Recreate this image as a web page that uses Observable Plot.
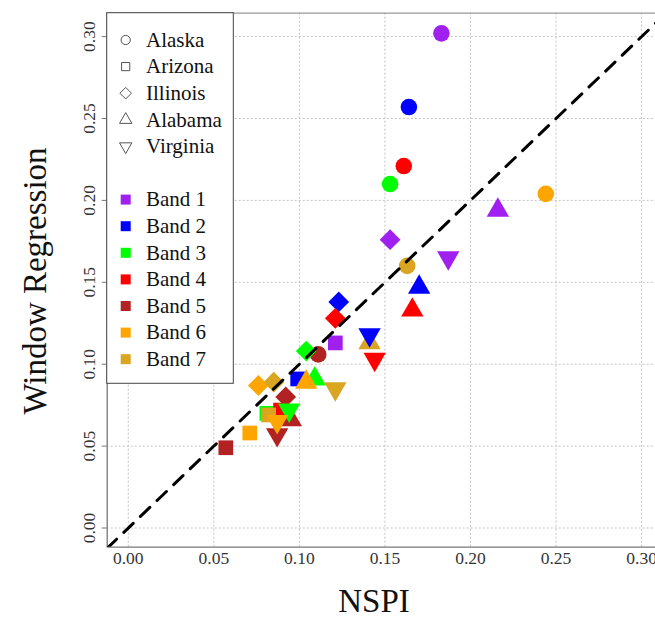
<!DOCTYPE html>
<html>
<head>
<meta charset="utf-8">
<script src="https://cdn.jsdelivr.net/npm/d3@7"></script>
<script src="https://cdn.jsdelivr.net/npm/@observablehq/plot@0.6"></script>
<style>
  html, body { margin: 0; padding: 0; background: white; }
  svg { display: block; }
</style>
</head>
<body>
<div id="chart"></div>
<script>
// ---- data ----
const sites = ["Alaska", "Arizona", "Illinois", "Alabama", "Virginia"];
const bands = ["Band 1", "Band 2", "Band 3", "Band 4", "Band 5", "Band 6", "Band 7"];
const bandColors = ["#A020F0", "#0000FF", "#00FF00", "#FF0000", "#B22222", "#FFA500", "#DAA520"];
const tickValues = [0, 0.05, 0.10, 0.15, 0.20, 0.25, 0.30];

// NSPI (x) and Window Regression (y), one value per band (Band 1..7)
const nspiAlaska   = [0.183, 0.164, 0.153, 0.161, 0.111, 0.244, 0.163];
const wrAlaska     = [0.302, 0.257, 0.210, 0.221, 0.106, 0.204, 0.160];
const nspiArizona  = [0.121, 0.099, 0.081, 0.089, 0.057, 0.071, 0.082];
const wrArizona    = [0.113, 0.091, 0.070, 0.072, 0.049, 0.058, 0.069];
const nspiIllinois = [0.153, 0.123, 0.104, 0.121, 0.092, 0.076, 0.085];
const wrIllinois   = [0.176, 0.138, 0.108, 0.128, 0.080, 0.087, 0.089];
const nspiAlabama  = [0.216, 0.170, 0.109, 0.166, 0.095, 0.104, 0.141];
const wrAlabama    = [0.194, 0.147, 0.091, 0.133, 0.066, 0.089, 0.113];
const nspiVirginia = [0.187, 0.141, 0.094, 0.144, 0.087, 0.087, 0.121];
const wrVirginia   = [0.165, 0.118, 0.072, 0.103, 0.057, 0.065, 0.085];

const nspiBySite = [nspiAlaska, nspiArizona, nspiIllinois, nspiAlabama, nspiVirginia];
const wrBySite = [wrAlaska, wrArizona, wrIllinois, wrAlabama, wrVirginia];

// flat table (site-major order: later sites drawn on top)
const table = [];
sites.forEach((site, i) => {
  bands.forEach((band, j) => {
    table.push({site, band, nspi: nspiBySite[i][j], wr: wrBySite[i][j]});
  });
});

// ---- symbols (R-like filled pch shapes) ----
const rad = size => Math.sqrt(size / Math.PI);
const symCircle = {draw(c, size) { const r = rad(size); c.moveTo(r, 0); c.arc(0, 0, r, 0, 2 * Math.PI); }};
const symSquare = {draw(c, size) { const s = rad(size) * 0.886; c.rect(-s, -s, 2 * s, 2 * s); }};
const symDiamond = {draw(c, size) { const d = rad(size) * 1.2533; c.moveTo(0, -d); c.lineTo(d, 0); c.lineTo(0, d); c.lineTo(-d, 0); c.closePath(); }};
const symTriUp = {draw(c, size) { const k = rad(size); c.moveTo(0, -1.555 * k); c.lineTo(1.347 * k, 0.778 * k); c.lineTo(-1.347 * k, 0.778 * k); c.closePath(); }};
const symTriDown = {draw(c, size) { const k = rad(size); c.moveTo(0, 1.555 * k); c.lineTo(1.347 * k, -0.778 * k); c.lineTo(-1.347 * k, -0.778 * k); c.closePath(); }};
const siteSymbols = [symCircle, symSquare, symDiamond, symTriUp, symTriDown];

const xDomain = [-0.01233, 0.30812];
const yDomain = [-0.01172, 0.31429];
const diag = [xDomain[0], 0.32];
const fmt = d3.format(".2f");

const chart = Plot.plot({
  width: 655,
  height: 619,
  marginLeft: 106.7,
  marginRight: 0,
  marginTop: 12.7,
  marginBottom: 72.3,
  style: {fontFamily: "'Liberation Serif', 'Times New Roman', serif", background: "white"},
  x: {domain: xDomain},
  y: {domain: yDomain},
  symbol: {domain: sites, range: siteSymbols},
  color: {domain: bands, range: bandColors},
  marks: [
    Plot.gridX(tickValues, {stroke: "#c4c4c4", strokeOpacity: 1, strokeWidth: 1, strokeDasharray: "2,2"}),
    Plot.gridY(tickValues, {stroke: "#c4c4c4", strokeOpacity: 1, strokeWidth: 1, strokeDasharray: "2,2"}),
    Plot.ruleX([xDomain[0]], {stroke: "#777", strokeWidth: 1.3}),
    Plot.ruleY([yDomain[0]], {stroke: "#777", strokeWidth: 1.3}),
    Plot.ruleY([yDomain[1]], {stroke: "#999", strokeWidth: 1.3}),
    Plot.dot(table, {x: "nspi", y: "wr", symbol: "site", fill: "band", r: 8.3, stroke: "none"}),
    Plot.line(diag, {x: d => d, y: d => d, stroke: "black", strokeWidth: 3, strokeDasharray: "13,10", clip: true}),
    Plot.axisX(tickValues, {tickSize: 0, tickPadding: 4, tickFormat: fmt, fontSize: 17.5, color: "#333", label: null}),
    Plot.axisY(tickValues, {tickSize: 5, tickPadding: 7, tickRotate: -90, tickFormat: fmt, fontSize: 17.5, color: "#333", stroke: "#777", label: null})
  ]
});

document.getElementById("chart").appendChild(chart);

// ---- legend and axis titles ----
const svg = d3.select(chart);
const lg = svg.append("g").attr("text-anchor", "start");
lg.append("rect")
  .attr("x", 106.7).attr("y", 12.7).attr("width", 126.6).attr("height", 370.6)
  .attr("fill", "white").attr("stroke", "#444").attr("stroke-width", 1);
const rowY = i => 40 + i * 26.6;
sites.forEach((s, i) => {
  lg.append("path")
    .attr("transform", `translate(125.7,${rowY(i)})`)
    .attr("d", d3.symbol(siteSymbols[i], Math.PI * 4.6 * 4.6)())
    .attr("fill", "none").attr("stroke", "#555").attr("stroke-width", 1);
  lg.append("text")
    .attr("x", 146).attr("y", rowY(i) + 6.8)
    .attr("text-anchor", "start")
    .attr("font-size", 21).attr("fill", "#111")
    .text(s);
});
bands.forEach((b, j) => {
  const yy = rowY(6 + j);
  lg.append("rect")
    .attr("x", 120.7).attr("y", yy - 5).attr("width", 10).attr("height", 10)
    .attr("fill", bandColors[j]);
  lg.append("text")
    .attr("x", 146).attr("y", yy + 6.8)
    .attr("text-anchor", "start")
    .attr("font-size", 21).attr("fill", "#111")
    .text(b);
});

svg.append("text")
  .attr("x", 374).attr("y", 612)
  .attr("text-anchor", "middle").attr("font-size", 33).attr("fill", "#111")
  .text("NSPI");
svg.append("text")
  .attr("transform", "translate(46,281) rotate(-90)")
  .attr("text-anchor", "middle").attr("font-size", 33).attr("fill", "#111")
  .text("Window Regression");
</script>
</body>
</html>
